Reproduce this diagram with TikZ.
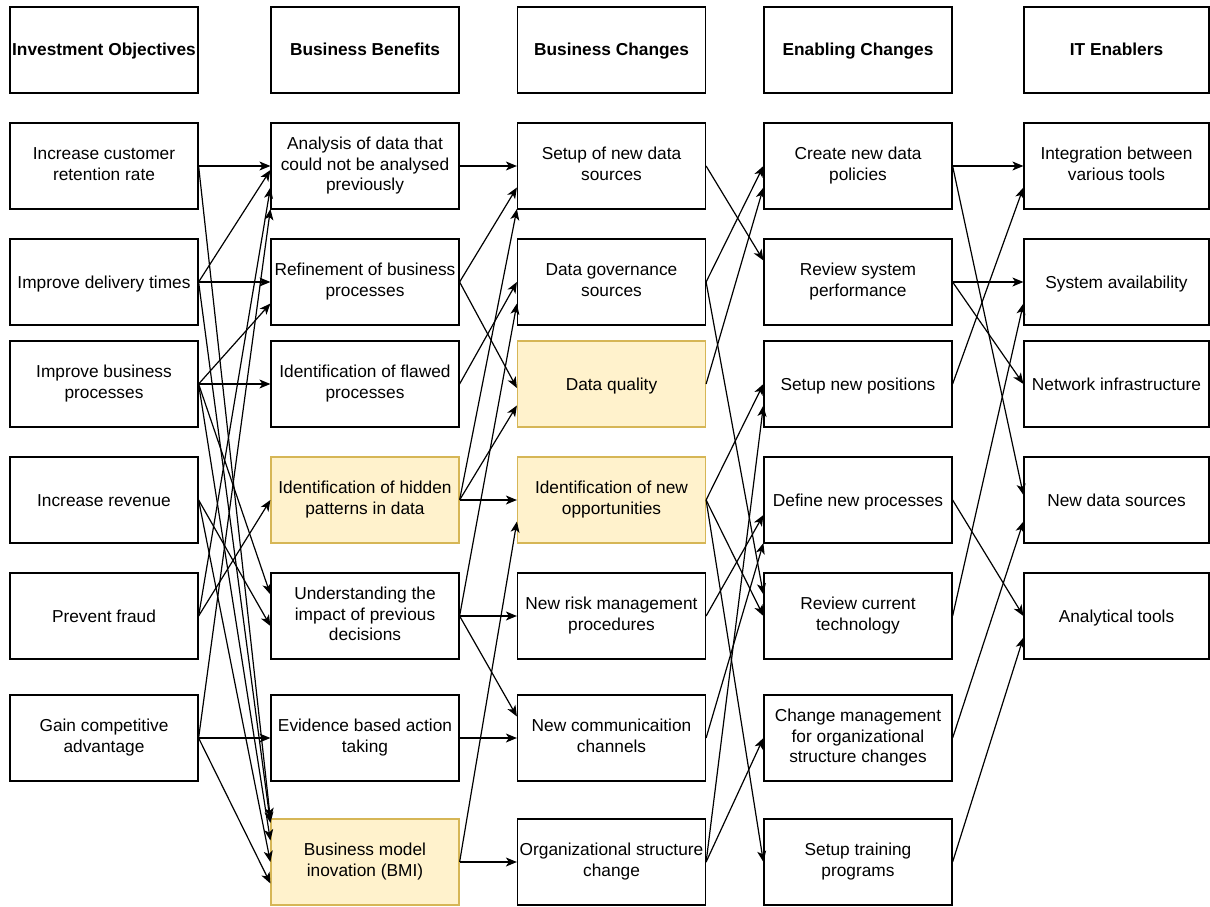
\documentclass[tikz,border=0pt]{standalone}
\usepackage{fontspec}
\setmainfont{Liberation Sans}
\usetikzlibrary{arrows.meta}
\definecolor{hlfill}{HTML}{FFF2CC}
\definecolor{hldraw}{HTML}{D6B656}
\newcommand\linestrut{\rule[-4.4pt]{0pt}{20.8pt}}

\begin{document}
\begin{tikzpicture}[x=1pt,y=-1pt,
	box/.style={draw=black,line width=1.2pt,minimum width=188pt,minimum height=86pt,inner sep=0pt,align=center,font=\fontsize{17.3}{20.8}\selectfont,execute at begin node=\linestrut,execute at end node=\linestrut},
	head/.style={box,font=\fontsize{17.3}{20.8}\selectfont\bfseries},
	hl/.style={box,fill=hlfill,draw=hldraw},
	link/.style={-{Stealth[length=11pt,width=9pt,inset=3pt]},line width=1.2pt}]
%	\draw[step=50pt,red,very thin] (0,0) grid (1210,907);

	\fill[white] (0,0) rectangle (1210,907);

	% column headers
	\node[head] (hio) at (104,50) {Investment Objectives};
	\node[head] (hbb) at (365,50) {Business Benefits};
	\node[head] (hbc) at (611.5,50) {Business Changes};
	\node[head] (hec) at (858,50) {Enabling Changes};
	\node[head,minimum width=185pt] (hit) at (1116.5,50) {IT Enablers};

	% investment objectives
	\node[box] (io1) at (104,166) {Increase customer\\retention rate};
	\node[box] (io2) at (104,282) {Improve delivery times};
	\node[box] (io3) at (104,384) {Improve business\\processes};
	\node[box] (io4) at (104,500) {Increase revenue};
	\node[box] (io5) at (104,616) {Prevent fraud};
	\node[box] (io6) at (104,738) {Gain competitive\\advantage};

	% business benefits
	\node[box] (bb1) at (365,166) {Analysis of data that\\could not be analysed\\previously};
	\node[box] (bb2) at (365,282) {Refinement of business\\processes};
	\node[box] (bb3) at (365,384) {Identification of flawed\\processes};
	\node[hl] (bb4) at (365,500) {Identification of hidden\\patterns in data};
	\node[box] (bb5) at (365,616) {Understanding the\\impact of previous\\decisions};
	\node[box] (bb6) at (365,738) {Evidence based action\\taking};
	\node[hl] (bb7) at (365,862) {Business model\\inovation (BMI)};

	% business changes
	\node[box] (bc1) at (611.5,166) {Setup of new data\\sources};
	\node[box] (bc2) at (611.5,282) {Data governance\\sources};
	\node[hl] (bc3) at (611.5,384) {Data quality};
	\node[hl] (bc4) at (611.5,500) {Identification of new\\opportunities};
	\node[box] (bc5) at (611.5,616) {New risk management\\procedures};
	\node[box] (bc6) at (611.5,738) {New communicaition\\channels};
	\node[box] (bc7) at (611.5,862) {Organizational structure\\change};

	% enabling changes
	\node[box] (ec1) at (858,166) {Create new data\\policies};
	\node[box] (ec2) at (858,282) {Review system\\performance};
	\node[box] (ec3) at (858,384) {Setup new positions};
	\node[box] (ec4) at (858,500) {Define new processes};
	\node[box] (ec5) at (858,616) {Review current\\technology};
	\node[box] (ec6) at (858,738) {Change management\\for organizational\\structure changes};
	\node[box] (ec7) at (858,862) {Setup training\\programs};

	% it enablers
	\node[box,minimum width=185pt] (it1) at (1116.5,166) {Integration between\\various tools};
	\node[box,minimum width=185pt] (it2) at (1116.5,282) {System availability};
	\node[box,minimum width=185pt] (it3) at (1116.5,384) {Network infrastructure};
	\node[box,minimum width=185pt] (it4) at (1116.5,500) {New data sources};
	\node[box,minimum width=185pt] (it5) at (1116.5,616) {Analytical tools};

	% objectives -> benefits
	\draw[link] (io1.east) -- (bb1.west);
	\draw[link] (io1.east) -- ([yshift=43pt]bb7.west);
	\draw[link] (io2.east) -- ([yshift=-4pt]bb1.west);
	\draw[link] (io2.east) -- (bb2.west);
	\draw[link] (io2.east) -- ([yshift=39pt]bb7.west);
	\draw[link] (io3.east) -- ([yshift=-21.5pt]bb2.west);
	\draw[link] (io3.east) -- (bb3.west);
	\draw[link] (io3.east) -- ([yshift=21.5pt]bb5.west);
	\draw[link] (io3.east) -- ([yshift=21.5pt]bb7.west);
	\draw[link] (io4.east) -- ([yshift=-10pt]bb5.west);
	\draw[link] (io4.east) -- (bb7.west);
	\draw[link] (io5.east) -- (bb4.west);
	\draw[link] (io5.east) -- ([yshift=-21.5pt]bb1.west);
	\draw[link] (io6.east) -- ([yshift=-43pt]bb1.west);
	\draw[link] (io6.east) -- (bb6.west);
	\draw[link] (io6.east) -- ([yshift=-21.5pt]bb7.west);

	% benefits -> business changes
	\draw[link] (bb1.east) -- (bc1.west);
	\draw[link] (bb2.east) -- ([yshift=-21.5pt]bc1.west);
	\draw[link] (bb2.east) -- ([yshift=-4pt]bc3.west);
	\draw[link] (bb3.east) -- (bc2.west);
	\draw[link] (bb4.east) -- ([yshift=-43pt]bc1.west);
	\draw[link] (bb4.east) -- ([yshift=-21.5pt]bc3.west);
	\draw[link] (bb4.east) -- (bc4.west);
	\draw[link] (bb5.east) -- ([yshift=-21.5pt]bc2.west);
	\draw[link] (bb5.east) -- (bc5.west);
	\draw[link] (bb5.east) -- ([yshift=21.5pt]bc6.west);
	\draw[link] (bb6.east) -- (bc6.west);
	\draw[link] (bb7.east) -- ([yshift=-21.5pt]bc4.west);
	\draw[link] (bb7.east) -- (bc7.west);

	% business changes -> enabling changes
	\draw[link] (bc1.east) -- ([yshift=21.5pt]ec2.west);
	\draw[link] (bc2.east) -- (ec1.west);
	\draw[link] (bc2.east) -- ([yshift=21.5pt]ec5.west);
	\draw[link] (bc3.east) -- ([yshift=-21.5pt]ec1.west);
	\draw[link] (bc4.east) -- (ec3.west);
	\draw[link] (bc4.east) -- (ec5.west);
	\draw[link] (bc4.east) -- (ec7.west);
	\draw[link] (bc5.east) -- ([yshift=-15pt]ec4.west);
	\draw[link] (bc6.east) -- ([yshift=-43pt]ec4.west);
	\draw[link] (bc7.east) -- ([yshift=-21.5pt]ec3.west);
	\draw[link] (bc7.east) -- (ec6.west);

	% enabling changes -> it enablers
	\draw[link] (ec1.east) -- (it1.west);
	\draw[link] (ec1.east) -- ([yshift=5pt]it4.west);
	\draw[link] (ec2.east) -- (it2.west);
	\draw[link] (ec2.east) -- (it3.west);
	\draw[link] (ec3.east) -- ([yshift=-21.5pt]it1.west);
	\draw[link] (ec4.east) -- (it5.west);
	\draw[link] (ec5.east) -- ([yshift=-21.5pt]it2.west);
	\draw[link] (ec6.east) -- ([yshift=-21.5pt]it4.west);
	\draw[link] (ec7.east) -- ([yshift=-21.5pt]it5.west);
\end{tikzpicture}
\end{document}
